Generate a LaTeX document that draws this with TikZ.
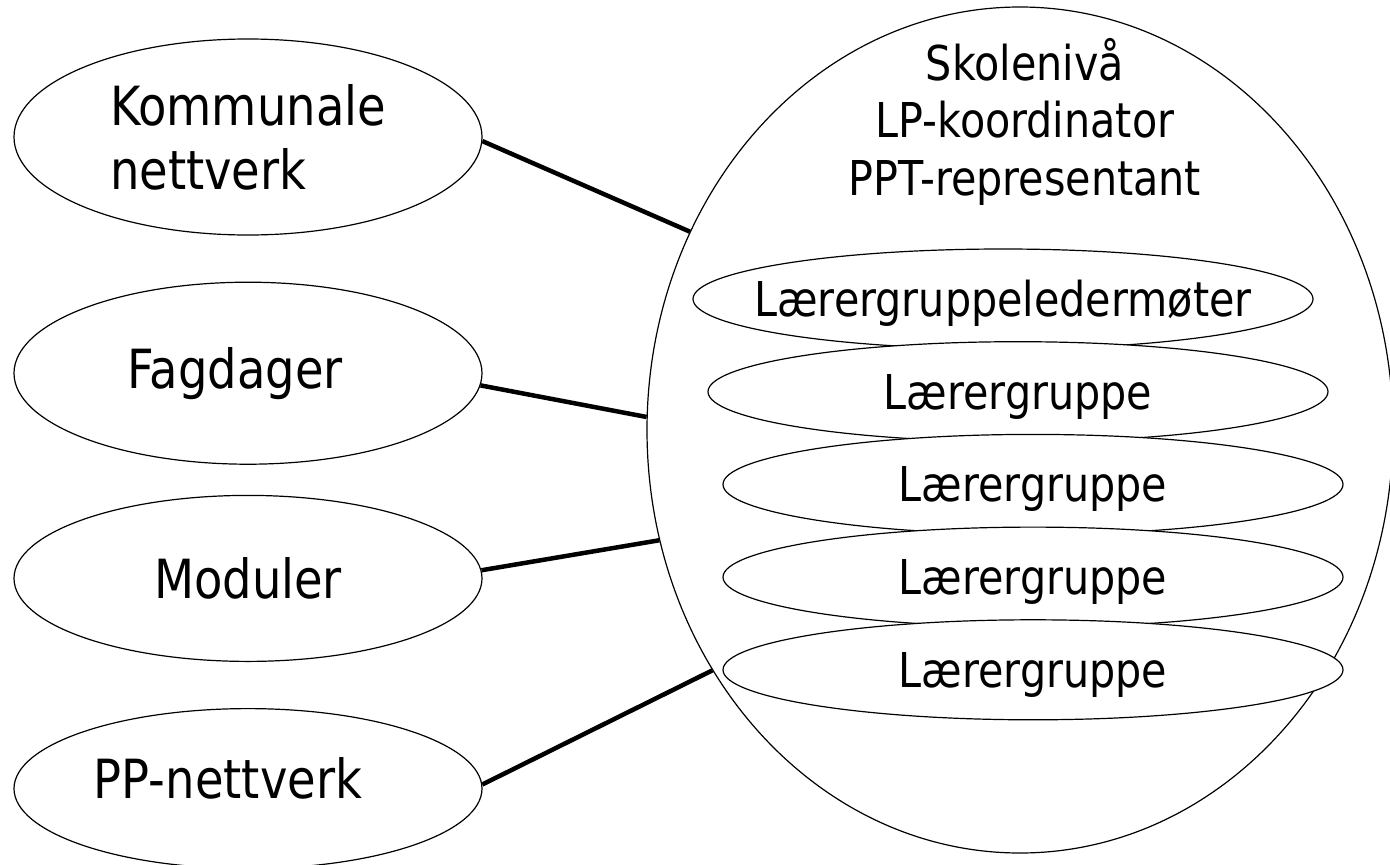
\documentclass[tikz,border=0pt]{standalone}
\usepackage{fontspec}
\setmainfont[FakeStretch=0.86]{DejaVu Sans}
\usetikzlibrary{positioning,shapes.geometric}

\begin{document}
\begin{tikzpicture}[x=1pt, y=-1pt, line width=1.2pt,
  arena/.style={draw, ellipse, fill=white, inner sep=0pt, minimum width=468pt,
    font=\fontsize{54}{64}\selectfont},
  gruppe/.style={draw, ellipse, fill=white, inner ysep=0pt, inner xsep=-80pt,
    minimum width=620pt, minimum height=100pt, text height=35pt, text depth=0pt,
    font=\fontsize{48}{57.5}\selectfont},
  kobling/.style={line width=4.5pt}]
  \useasboundingbox (0,0) rectangle (1390,865);
  % skolen
  \node[draw, ellipse, minimum width=746pt, minimum height=846pt] (skole) at (1020,430) {};
  \node[below=31pt of skole.north, xshift=5pt, inner sep=0pt, align=center,
    font=\fontsize{48}{57.5}\selectfont] (niva) {Skolenivå\\LP-koordinator\\PPT-representant};
  \node[gruppe] (lgl) at (1003,299) {Lærergruppeledermøter};
  \node[gruppe, below=-8.5pt of lgl, xshift=15pt] (lg1) {Lærergruppe};
  \node[gruppe, below=-8.5pt of lg1, xshift=15pt] (lg2) {Lærergruppe};
  \node[gruppe, below=-8.5pt of lg2] (lg3) {Lærergruppe};
  \node[gruppe, below=-8.5pt of lg3] (lg4) {Lærergruppe};
  % arenaer utenfor
  \node[arena, minimum height=196pt, align=left] (komm) at (248,137) {Kommunale\\nettverk};
  \node[arena, minimum height=182pt, below=46pt of komm] (fag) {Fagdager\kern26pt};
  \node[arena, minimum height=166pt, below=30pt of fag] (mod) {Moduler};
  \node[arena, minimum height=160pt, below=46pt of mod, text depth=22pt] (pp) {PP-nettverk\kern40pt};
  \draw[kobling] (komm.-1) -- (skole.149);
  \draw[kobling] (fag.-3) -- (skole.178);
  \draw[kobling] (mod.2) -- (skole.197);
  \draw[kobling] (pp.1) -- (skole.218);
\end{tikzpicture}
\end{document}
